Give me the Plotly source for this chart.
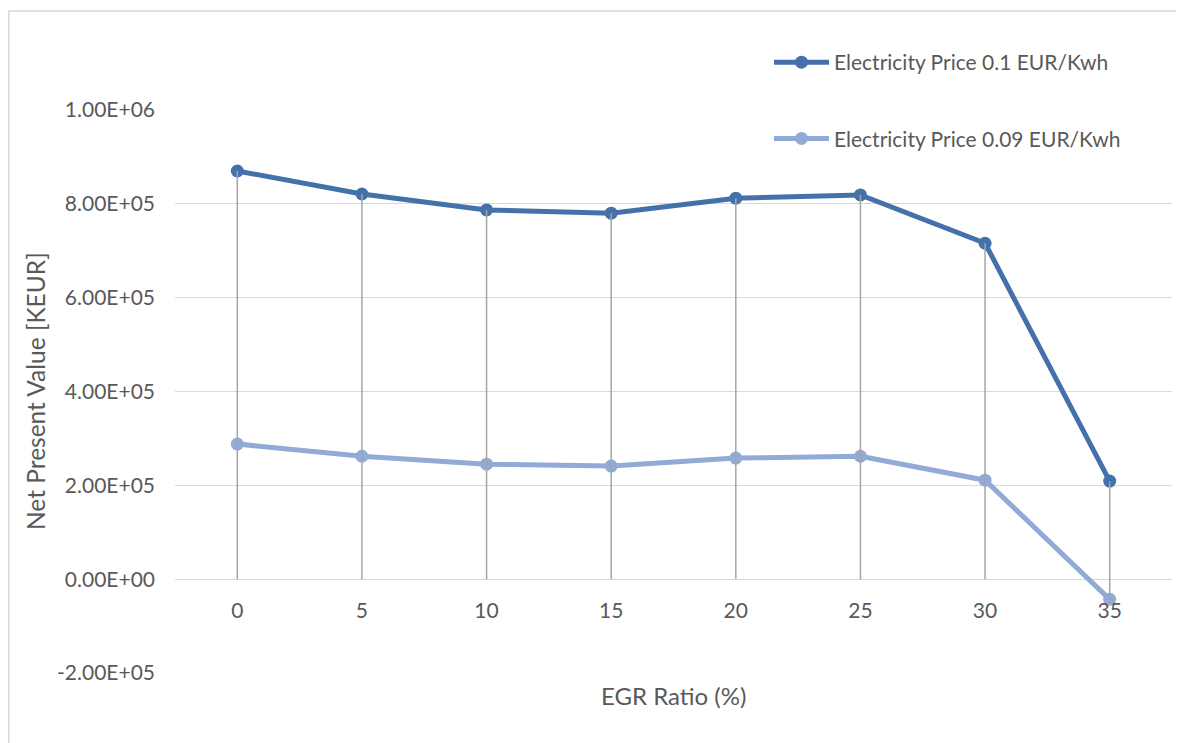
import plotly.graph_objects as go

egr_ratio = [0, 5, 10, 15, 20, 25, 30, 35]
npv_price_010 = [870000, 821000, 787000, 780000, 812000, 819000, 716000, 209000]
npv_price_009 = [288000, 262000, 245000, 241000, 258000, 262000, 211000, -43000]
y_ticks = [-200000, 0, 200000, 400000, 600000, 800000, 1000000]
y_tick_text = [f"{v:.2E}" for v in y_ticks]

FONT = "Lato"
TXT = "#595959"
C1 = "#4471A9"
C2 = "#91AAD6"

fig = go.Figure()
fig.add_trace(go.Scatter(
    x=egr_ratio, y=npv_price_010, mode="lines+markers",
    name="Electricity Price 0.1 EUR/Kwh", legendgroup="a",
    line=dict(color=C1, width=5), marker=dict(color=C1, size=13)))
fig.add_trace(go.Scatter(
    x=egr_ratio, y=npv_price_009, mode="lines+markers",
    name="Electricity Price 0.09 EUR/Kwh", legendgroup="b",
    line=dict(color=C2, width=5), marker=dict(color=C2, size=13)))

# drop lines (from highest point down to the axis / lowest point)
dx, dy = [], []
for x, a, b in zip(egr_ratio, npv_price_010, npv_price_009):
    dx += [x, x, None]
    dy += [max(a, b), min(0, a, b), None]
fig.add_trace(go.Scatter(x=dx, y=dy, mode="lines", showlegend=False,
                         hoverinfo="skip",
                         line=dict(color="#A5A5A5", width=1.5)))

# page body adds an 8px offset; plot area spans window px x 175-1172, y 110-673
fig.update_layout(
    width=1176, height=735,
    margin=dict(l=167, r=12, t=102, b=70),
    paper_bgcolor="white", plot_bgcolor="white",
    font=dict(family=FONT, size=20, color=TXT),
    legend=dict(x=(769 - 175) / 997, y=(673 - 42) / 563, xanchor="left", yanchor="top",
                bgcolor="rgba(0,0,0,0)", tracegroupgap=46, itemwidth=55,
                font=dict(size=21, color=TXT)),
    xaxis=dict(range=[-2.5, 37.5], tickvals=egr_ratio,
               ticktext=[str(v) for v in egr_ratio],
               showgrid=False, zeroline=False, showline=False, ticks="",
               anchor="free", position=1/6, ticklabelstandoff=17,
               tickfont=dict(size=21, color=TXT)),
    yaxis=dict(range=[-200000, 1000000], tickvals=y_ticks, ticktext=y_tick_text,
               showgrid=True, gridcolor="#D9D9D9", gridwidth=1.3,
               zeroline=False, showline=False, ticks="",
               ticklabelstandoff=19, tickfont=dict(size=21, color=TXT)),
    shapes=[dict(type="rect", xref="paper", yref="paper",
                 x0=(8.75 - 175) / 997, x1=1.2, y0=-0.3, y1=(673 - 11) / 563,
                 line=dict(color="#D9D9D9", width=1.5), layer="below")],
    annotations=[
        dict(text="EGR Ratio (%)", xref="paper", yref="paper",
             x=0.5, y=(673 - 695) / 563, xanchor="center", yanchor="middle",
             showarrow=False, font=dict(size=24, color=TXT)),
        dict(text="Net Present Value [KEUR]", xref="paper", yref="paper",
             x=(35 - 175) / 997, y=(673 - 391) / 563, xanchor="center", yanchor="middle",
             textangle=-90, showarrow=False, font=dict(size=24.5, color=TXT)),
    ],
)

fig.write_html("out.html")
